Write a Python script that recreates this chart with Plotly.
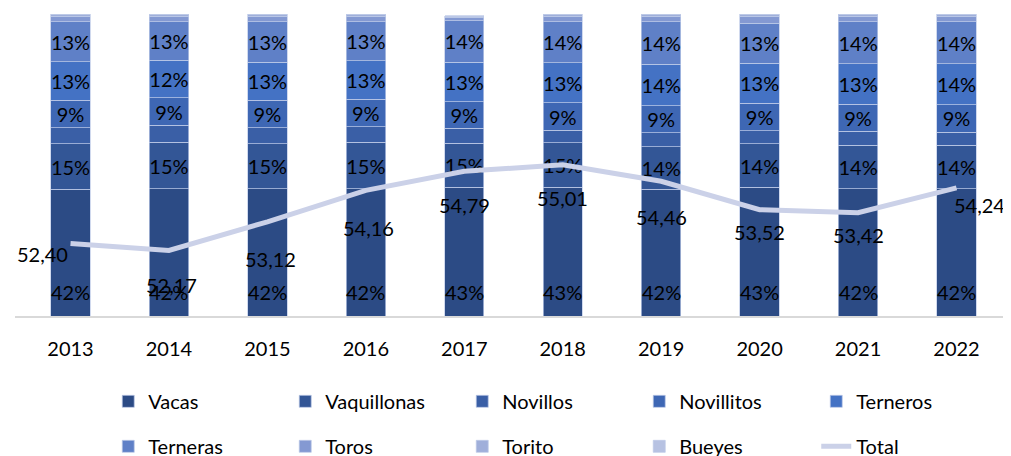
import plotly.graph_objects as go

years = ["2013", "2014", "2015", "2016", "2017", "2018", "2019", "2020", "2021", "2022"]

vacas       = [41.9, 42.1, 42.1, 42.1, 42.6, 42.6, 41.9, 42.6, 42.2, 42.2]
vaquillonas = [15.2, 15.4, 15.0, 15.4, 14.6, 14.7, 14.1, 14.4, 14.4, 14.3]
novillos    = [5.3, 5.6, 5.3, 5.2, 4.9, 4.2, 4.6, 4.4, 4.6, 4.4]
novillitos  = [9.1, 9.2, 9.0, 9.0, 8.9, 9.1, 9.1, 9.1, 9.0, 9.1]
terneros    = [12.7, 12.4, 12.7, 12.8, 13.1, 13.3, 13.6, 13.2, 13.4, 13.6]
terneras    = [13.2, 12.8, 13.3, 13.0, 13.6, 13.6, 14.1, 13.3, 13.8, 13.8]
toros       = [1.9, 1.8, 1.9, 1.8, 1.3, 1.8, 1.9, 2.3, 1.9, 1.9]
torito      = [0.4, 0.4, 0.4, 0.4, 0.3, 0.4, 0.4, 0.4, 0.4, 0.4]
bueyes      = [0.3, 0.3, 0.3, 0.3, 0.2, 0.3, 0.3, 0.3, 0.3, 0.3]
total       = [52.40, 52.17, 53.12, 54.16, 54.79, 55.01, 54.46, 53.52, 53.42, 54.24]

series = [
    ("Vacas", vacas, "#2C4B85", False),
    ("Vaquillonas", vaquillonas, "#335696", True),
    ("Novillos", novillos, "#3A5FA6", False),
    ("Novillitos", novillitos, "#3E67B4", True),
    ("Terneros", terneros, "#4472C4", True),
    ("Terneras", terneras, "#5F80C7", True),
    ("Toros", toros, "#8499D2", False),
    ("Torito", torito, "#A0AFDA", False),
    ("Bueyes", bueyes, "#B7C2E2", False),
]

FONT = "Lato"
FS = 20

fig = go.Figure()
for i, (name, vals, col, lab) in enumerate(series):
    fig.add_trace(go.Bar(
        x=years, y=vals, name=name,
        marker=dict(color=col, line=dict(color="rgba(190,202,232,0.9)", width=0.8)),
        texttemplate="%{y:.0f}%" if lab else None,
        textposition="inside" if lab else "none",
        insidetextanchor="middle",
        textangle=0,
        constraintext="none",
        textfont=dict(family=FONT, size=FS, color="black"),
        legend="legend" if i < 5 else "legend2",
        hoverinfo="skip",
    ))

fig.add_trace(go.Scatter(
    x=years, y=total, name="Total", yaxis="y2", mode="lines",
    line=dict(color="#CBD1E8", width=5),
    legend="legend2", hoverinfo="skip",
))

# Vacas labels at the inside base of each bar
for idx, v in enumerate(vacas):
    fig.add_annotation(
        x=idx, y=0, xref="x", yref="y", text=f"{round(v)}%",
        showarrow=False, yshift=24,
        font=dict(family=FONT, size=FS, color="black"),
    )

# Total labels (offsets are styling only)
xshifts = [-28, 3, 3, 3, 0, 0, 0, 0, 0, 23]
yshifts = [-10, -35, -37, -38, -34, -33, -36, -22, -22, -17]
for idx, (tv, dx, dy) in enumerate(zip(total, xshifts, yshifts)):
    fig.add_annotation(
        x=idx, y=tv, yref="y2", xref="x",
        text=f"{tv:.2f}".replace(".", ","),
        showarrow=False, xshift=dx, yshift=dy,
        font=dict(family=FONT, size=FS, color="black"),
    )

fig.update_layout(
    width=1003, height=448,
    margin=dict(l=7, r=4, t=6, b=140, autoexpand=False),
    barmode="stack", bargap=0.6,
    plot_bgcolor="white", paper_bgcolor="white",
    font=dict(family=FONT, size=FS, color="black"),
    separators=",.",
    showlegend=True,
    xaxis=dict(type="category", showline=True, linecolor="#D9D9D9", linewidth=2, showgrid=False,
               ticks="outside", ticklen=14, tickcolor="rgba(0,0,0,0)",
               tickfont=dict(family=FONT, size=FS, color="black")),
    yaxis=dict(range=[0, 100], visible=False, showgrid=False),
    yaxis2=dict(range=[50, 60], overlaying="y", side="right", visible=False, showgrid=False),
    legend=dict(orientation="h", x=0.094, xanchor="left", y=-0.218, yanchor="top",
                entrywidth=132, entrywidthmode="pixels", traceorder="normal",
                font=dict(family=FONT, size=FS, color="black"), bgcolor="rgba(0,0,0,0)"),
    legend2=dict(orientation="h", x=0.094, xanchor="left", y=-0.367, yanchor="top",
                 entrywidth=132, entrywidthmode="pixels", traceorder="normal",
                 font=dict(family=FONT, size=FS, color="black"), bgcolor="rgba(0,0,0,0)"),
)

fig.write_html("out.html")
